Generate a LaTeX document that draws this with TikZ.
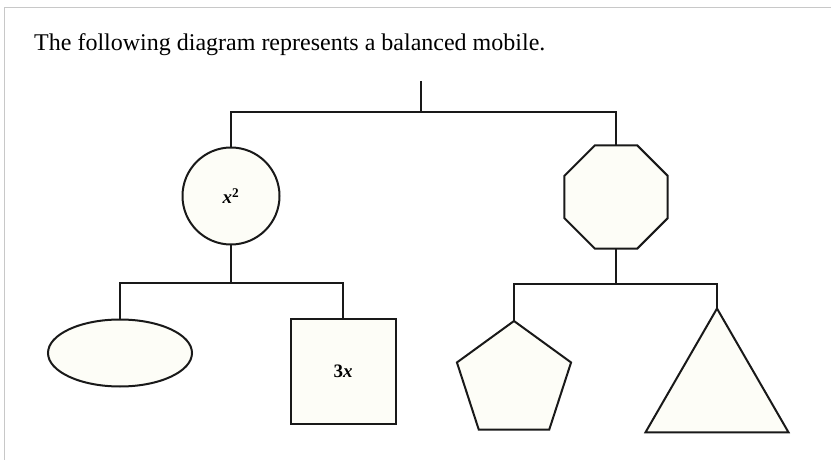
\documentclass[tikz,border=0pt]{standalone}
\usepackage{fontspec}
\setmainfont{Liberation Serif}
\usetikzlibrary{shapes.geometric}
\definecolor{cream}{RGB}{253,253,247}
\definecolor{frame}{RGB}{200,200,200}
\tikzset{
wt/.style={draw=black!90,line width=2pt,fill=cream,outer sep=0pt,inner sep=0pt}
}
\tikzset{
bar/.style={draw=black!90,line width=2pt}
}

\begin{document}
\begin{tikzpicture}[x=1pt,y=-1pt]
\useasboundingbox (0,0) rectangle (831,460);
\draw[frame,line width=1.2pt] (4.5,460) -- (4.5,7.5) -- (831,7.5);
\node[anchor=base west,inner sep=0pt,font=\fontsize{24}{28}\selectfont] (title) at (34,51) {The following diagram represents a balanced mobile.};

\node[wt,circle,minimum size=97pt,font=\fontsize{19}{21}\selectfont] (C1) at (231,196) {\textbf{\textit{x}\textsuperscript{2}}};
\node[wt,regular polygon,regular polygon sides=8,minimum size=111.5pt] (O1) at (616,197) {};
\node[wt,ellipse,minimum width=144pt,minimum height=67pt] (E1) at (120,353) {};
\node[wt,rectangle,minimum size=105pt,font=\fontsize{19}{21}\selectfont] (S1) at (343,371) {\textbf{3\textit{x}}};
\node[wt,regular polygon,regular polygon sides=5,minimum size=120pt] (P1) at (514,381) {};
\node[wt,regular polygon,regular polygon sides=3,minimum size=165pt] (T1) at (717,391) {};
%------------------------------------------------------------------------------------------------------------%
\coordinate (H0) at (421,81);
\coordinate (H1) at (421,112);
\coordinate (H2) at (231,283);
\coordinate (H3) at (616,284);
\draw[bar] (H0) -- (H1);
\draw[bar] (C1.north) -- (C1.north |- H1) -- (O1.north |- H1) -- (O1.north);
\draw[bar] (C1.south) -- (H2);
\draw[bar] (E1.north) -- (E1.north |- H2) -- (S1.north |- H2) -- (S1.north);
\draw[bar] (O1.south) -- (H3);
\draw[bar] (P1.north) -- (P1.north |- H3) -- (T1.north |- H3) -- (T1.north);

\end{tikzpicture}
\end{document}
